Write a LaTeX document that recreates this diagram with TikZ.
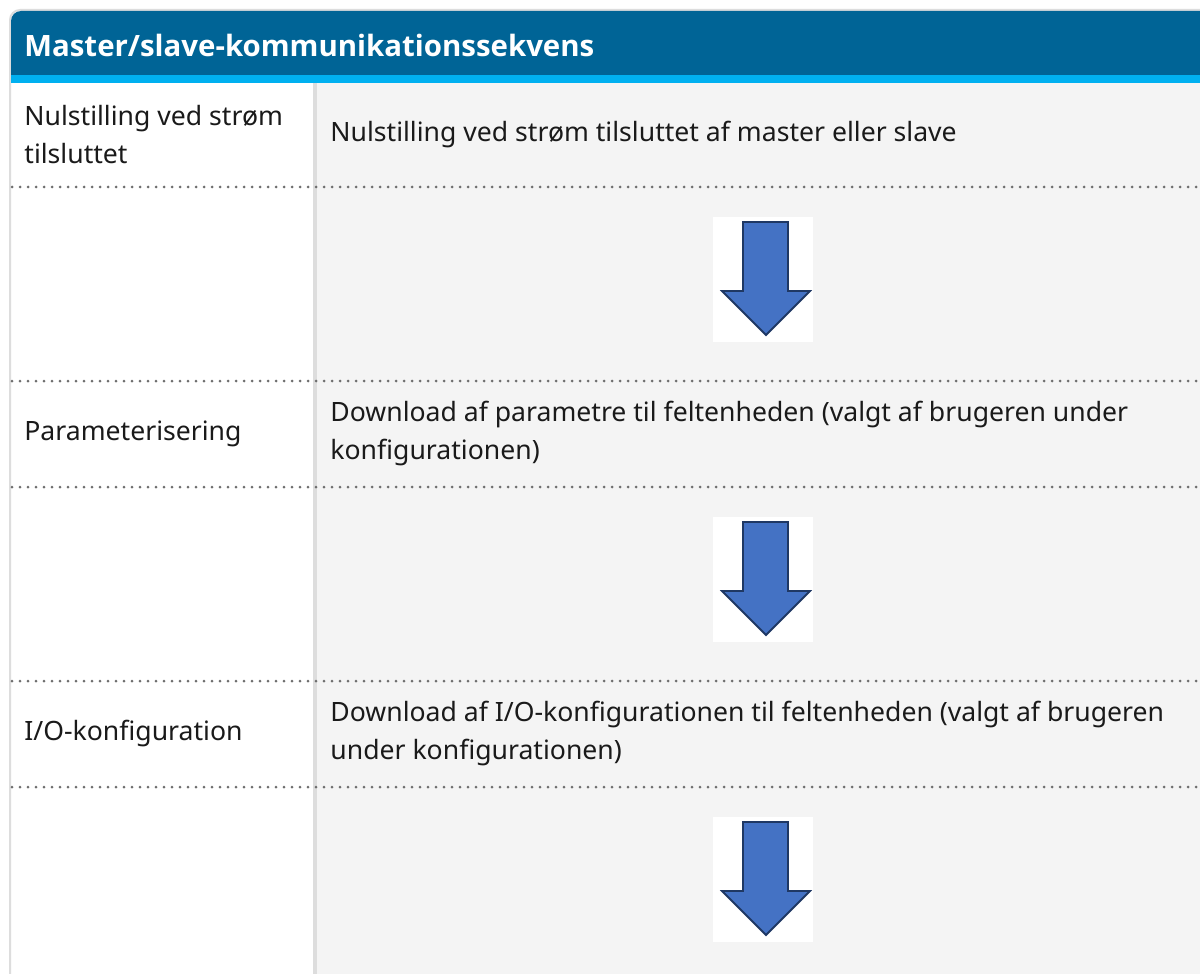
\documentclass[tikz,border=0pt]{standalone}
\usepackage{fontspec}
\setmainfont{Noto Sans}
\newfontfamily\titlefont{Open Sans}
\usetikzlibrary{positioning}

\definecolor{headblue}{HTML}{006496}
\definecolor{stripblue}{HTML}{00B0F0}
\definecolor{cellgray}{HTML}{F4F4F4}
\definecolor{rulegray}{HTML}{DDDDDD}
\definecolor{dotgray}{HTML}{6E6E6E}
\definecolor{arrowfill}{HTML}{4472C4}
\definecolor{arrowedge}{HTML}{1F3864}
\definecolor{textblack}{HTML}{1A1A1A}

\tikzset{
  cell/.style={anchor=west, inner sep=0pt, align=left, text=textblack,
    font=\fontsize{13.3pt}{19pt}\selectfont},
  dotrule/.style={dotgray, line width=1.5pt, line cap=round, dash pattern=on 0pt off 4pt},
  downarrow/.style={fill=arrowfill, draw=arrowedge, line width=0.9pt, line join=miter}
}

\begin{document}
\begin{tikzpicture}[x=0.5pt, y=-0.5pt]

% Canvas
\useasboundingbox (0,0) rectangle (1200,974);
\fill[white] (0,0) rectangle (1200,974);

% Frame
\draw[rulegray, line width=1pt, rounded corners=5pt] (10,990) -- (10,10) -- (1220,10);

% Header
\fill[headblue, rounded corners=5pt] (11,11) rectangle (1220,60);
\fill[headblue] (11,40) rectangle (1220,75);
\fill[stripblue] (11,75) rectangle (1220,83);
\node[anchor=west, inner sep=0pt, text=white, font=\titlefont\bfseries\fontsize{14.7pt}{17pt}\selectfont]
  (title) at (24,45) {Master/slave-kommunikationssekvens};

% Columns
\fill[cellgray] (317,83) rectangle (1220,990);
\fill[rulegray] (313,83) rectangle (317,990);

% Row rules
\foreach \y in {187,381,487,681,787}
{
    \draw[dotrule] (12,\y) -- (1200,\y);
}

% Steps
\node[cell] (phase1) at (24,135) {Nulstilling ved strøm\\tilsluttet};
\node[cell] (step1) at (330,135) {Nulstilling ved strøm tilsluttet af master eller slave};

\node[cell] (phase2) at (24,434) {Parameterisering};
\node[cell] (step2) at (330,434) {Download af parametre til feltenheden (valgt af brugeren under\\konfigurationen)};

\node[cell] (phase3) at (24,734) {I/O-konfiguration};
\node[cell] (step3) at (330,734) {Download af I/O-konfigurationen til feltenheden (valgt af brugeren\\under konfigurationen)};

% Arrows between steps
\foreach \t in {217,517,817}
{
    \fill[white] (713,\t) rectangle (813,\t+125);
    \draw[downarrow] (743,\t+5) -- (788,\t+5) -- (788,\t+74) -- (810,\t+74)
      -- (766,\t+118) -- (722,\t+74) -- (743,\t+74) -- cycle;
}

\end{tikzpicture}
\end{document}
